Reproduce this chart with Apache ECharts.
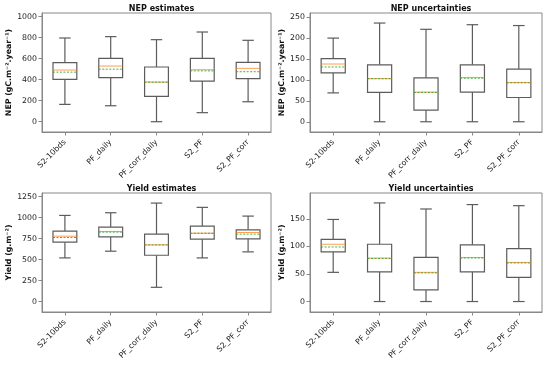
<!DOCTYPE html>
<html>
<head>
<meta charset="utf-8">
<script src="https://cdn.jsdelivr.net/npm/echarts@6/dist/echarts.min.js"></script>
<style>html,body{margin:0;padding:0;background:#fff}#c{width:550px;height:365px}</style>
</head>
<body>
<div id="c"></div>
<script>
const categories = ['S2-10bds', 'PF_daily', 'PF_corr_daily', 'S2_PF', 'S2_PF_corr'];

// NEP estimates
const nepEstLow    = [165, 152, 0, 86, 190];
const nepEstQ1     = [403, 419, 241, 387, 410];
const nepEstMedian = [492, 530, 378, 495, 508];
const nepEstQ3     = [562, 603, 521, 603, 565];
const nepEstHigh   = [797, 810, 781, 854, 775];
const nepEstMean   = [472, 500, 376, 484, 476];

// NEP uncertainties
const nepUncLow    = [69, 0, 0, 0, 0];
const nepUncQ1     = [117, 70, 28, 71, 58];
const nepUncMedian = [138, 103, 71, 106, 94];
const nepUncQ3     = [151, 136, 105, 136, 126];
const nepUncHigh   = [200, 236, 221, 232, 230];
const nepUncMean   = [131, 103, 70, 104, 93];

// Yield estimates
const yldEstLow    = [521, 601, 171, 521, 593];
const yldEstQ1     = [709, 772, 553, 744, 748];
const yldEstMedian = [780, 836, 677, 816, 824];
const yldEstQ3     = [840, 888, 804, 900, 856];
const yldEstHigh   = [1027, 1059, 1174, 1123, 1019];
const yldEstMean   = [764, 828, 675, 814, 804];

// Yield uncertainties
const yldUncLow    = [53, 0, 0, 0, 0];
const yldUncQ1     = [90, 54, 21, 54, 44];
const yldUncMedian = [104, 79, 53, 80, 71];
const yldUncQ3     = [113, 104, 80, 103, 96];
const yldUncHigh   = [149, 179, 168, 176, 174];
const yldUncMean   = [99, 78, 52, 79, 70];

// tick labels
const nepEstTicks = [0, 200, 400, 600, 800, 1000];
const nepUncTicks = [0, 50, 100, 150, 200, 250];
const yldEstTicks = [0, 250, 500, 750, 1000, 1250];
const yldUncTicks = [0, 50, 100, 150];

const titles = ['NEP estimates', 'NEP uncertainties', 'Yield estimates', 'Yield uncertainties'];
const yNames = ['NEP (gC.m\u207B\u00B2.year\u207B\u00B9)', 'NEP (gC.m\u207B\u00B2.year\u207B\u00B9)', 'Yield (g.m\u207B\u00B2)', 'Yield (g.m\u207B\u00B2)'];

function build(low, q1, med, q3, high, mean) {
  return categories.map((c, i) => [i, low[i], q1[i], med[i], q3[i], high[i], mean[i]]);
}
const panels = [
  { data: build(nepEstLow, nepEstQ1, nepEstMedian, nepEstQ3, nepEstHigh, nepEstMean), ticks: nepEstTicks, min: -98, max: 1035,
    grid: { left: 42, top: 13, width: 229, height: 119 }, gap: 29 },
  { data: build(nepUncLow, nepUncQ1, nepUncMedian, nepUncQ3, nepUncHigh, nepUncMean), ticks: nepUncTicks, min: -24.5, max: 260,
    grid: { left: 310, top: 13, width: 232, height: 119 }, gap: 23 },
  { data: build(yldEstLow, yldEstQ1, yldEstMedian, yldEstQ3, yldEstHigh, yldEstMean), ticks: yldEstTicks, min: -123, max: 1294,
    grid: { left: 42, top: 193, width: 229, height: 119 }, gap: 29 },
  { data: build(yldUncLow, yldUncQ1, yldUncMedian, yldUncQ3, yldUncHigh, yldUncMean), ticks: yldUncTicks, min: -19, max: 197,
    grid: { left: 310, top: 193, width: 232, height: 119 }, gap: 23 }
];

const FONT = 'DejaVu Sans';
const BOX = '#5c5c5c';
const FRAME = '#888';
const TXT = '#222';

function renderItem(params, api) {
  const i = api.value(0);
  const band = api.size([1, 0])[0];
  const bw = band * 0.52;
  const cw = band * 0.25;
  const pt = v => api.coord([i, v]);
  const cx = pt(api.value(1))[0];
  const yLow = pt(api.value(1))[1], yQ1 = pt(api.value(2))[1], yMed = pt(api.value(3))[1];
  const yQ3 = pt(api.value(4))[1], yHigh = pt(api.value(5))[1], yMean = pt(api.value(6))[1];
  const ls = { stroke: BOX, lineWidth: 1.2, fill: null };
  return {
    type: 'group',
    children: [
      { type: 'line', shape: { x1: cx, y1: yQ1, x2: cx, y2: yLow }, style: ls },
      { type: 'line', shape: { x1: cx, y1: yQ3, x2: cx, y2: yHigh }, style: ls },
      { type: 'line', shape: { x1: cx - cw / 2, y1: yLow, x2: cx + cw / 2, y2: yLow }, style: ls },
      { type: 'line', shape: { x1: cx - cw / 2, y1: yHigh, x2: cx + cw / 2, y2: yHigh }, style: ls },
      { type: 'rect', shape: { x: cx - bw / 2, y: yQ3, width: bw, height: yQ1 - yQ3 }, style: { stroke: BOX, lineWidth: 1.2, fill: '#fff' } },
      { type: 'line', shape: { x1: cx - bw / 2, y1: yMed, x2: cx + bw / 2, y2: yMed }, style: { stroke: '#ff7f0e', lineWidth: 1, opacity: 0.75 }, z2: 5 },
      { type: 'line', shape: { x1: cx - bw / 2, y1: yMean, x2: cx + bw / 2, y2: yMean }, style: { stroke: '#2ca02c', lineWidth: 1, lineDash: [2, 1.5], opacity: 0.85 }, z2: 6 }
    ]
  };
}

const option = {
  animation: false,
  backgroundColor: '#fff',
  title: panels.map((p, k) => ({
    text: titles[k],
    left: p.grid.left + p.grid.width / 2,
    top: p.grid.top - 13,
    textAlign: 'center',
    textStyle: { fontFamily: FONT, fontSize: 8, fontWeight: 'bold', color: '#111' }
  })),
  grid: panels.map(p => Object.assign({ show: true, borderColor: FRAME, borderWidth: 1, backgroundColor: 'transparent' }, p.grid)),
  xAxis: panels.map((p, k) => ({
    type: 'category', gridIndex: k, data: categories, boundaryGap: true,
    axisLine: { show: true, onZero: false, lineStyle: { color: FRAME, width: 1 } },
    axisTick: { show: true, alignWithLabel: true, length: 3.5, lineStyle: { color: FRAME } },
    axisLabel: { rotate: 45, fontFamily: FONT, fontSize: 7.8, color: TXT, margin: 9, interval: 0 },
    splitLine: { show: false }
  })),
  yAxis: panels.map((p, k) => ({
    type: 'value', gridIndex: k, min: p.min, max: p.max,
    name: yNames[k], nameLocation: 'middle', nameGap: p.gap, nameRotate: 90,
    nameTextStyle: { fontFamily: FONT, fontSize: 7.8, fontWeight: 'bold', color: '#111' },
    axisLine: { show: true, onZero: false, lineStyle: { color: FRAME, width: 1 } },
    axisTick: { show: true, length: 3.5, customValues: p.ticks, lineStyle: { color: FRAME } },
    axisLabel: { fontFamily: FONT, fontSize: 7.8, color: TXT, margin: 5, customValues: p.ticks, formatter: v => String(v) },
    splitLine: { show: false }
  })),
  series: panels.map((p, k) => ({
    type: 'custom', xAxisIndex: k, yAxisIndex: k,
    renderItem: renderItem,
    encode: { x: 0, y: [1, 2, 3, 4, 5, 6] },
    data: p.data
  }))
};

const chart = echarts.init(document.getElementById('c'), null, { renderer: 'canvas' });
chart.setOption(option);
</script>
</body>
</html>
